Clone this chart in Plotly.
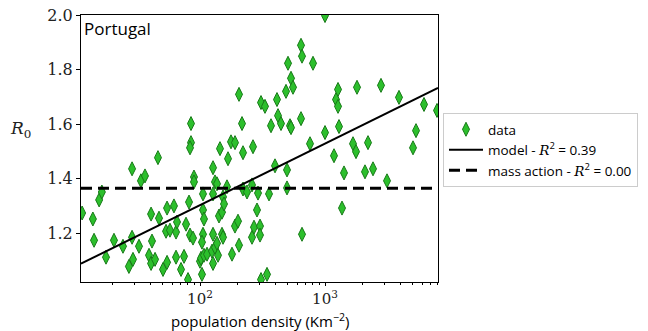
import plotly.graph_objects as go
import numpy as np

# population density (Km^-2) and R0 per region
density = [
    11.4, 13.9, 14.2, 15.6, 16.4, 17.7, 20.5, 24.2, 27.0, 28.6,
    28.6, 29.1, 32.5, 33.7, 36.3, 39.1, 40.6, 40.6, 41.3, 43.7,
    46.1, 47.0, 50.6, 53.5, 54.5, 54.5, 57.5, 61.9, 64.3, 64.3,
    65.5, 70.5, 74.5, 77.3, 80.2, 81.7, 83.2, 87.9, 84.7, 84.7,
    83.2, 89.5, 89.5, 100.0, 101.9, 107.6, 113.8, 103.7, 105.7, 105.7,
    107.6, 105.7, 103.7, 124.7, 127.1, 127.1, 127.1, 127.1, 131.8, 136.8,
    131.8, 136.8, 139.3, 141.9, 144.5, 150.0, 150.0, 152.8, 152.8, 155.6,
    164.4, 167.5, 177.0, 190.5, 180.3, 190.5, 201.4, 205.1, 205.1, 216.8,
    220.8, 220.8, 237.7, 260.6, 265.5, 260.6, 270.4, 285.8, 291.1, 302.0,
    302.0, 307.6, 343.6, 307.6, 331.1, 356.5, 369.8, 398.1, 413.0, 420.7,
    444.6, 487.5, 496.6, 496.6, 505.8, 524.8, 534.6, 534.6, 554.6, 642.7,
    654.6, 642.7, 654.6, 758.6, 801.7, 1000.0, 1000.0, 1180.0, 1225.0, 1271.0,
    1271.0, 1294.0, 1368.0, 1419.0, 1675.0, 1770.0, 1803.0, 2089.0, 2208.0, 2421.0,
    2805.0, 3133.0, 3908.0, 5058.0, 5346.0, 6194.0, 7870.0,
]
r0 = [
    1.274, 1.252, 1.174, 1.322, 1.351, 1.112, 1.174, 1.152, 1.078, 1.436,
    1.185, 1.104, 1.152, 1.392, 1.410, 1.119, 1.270, 1.089, 1.171, 1.104,
    1.477, 1.255, 1.067, 1.207, 1.292, 1.093, 1.211, 1.300, 1.204, 1.112,
    1.241, 1.067, 1.115, 1.233, 1.030, 1.314, 1.193, 1.182, 1.602, 1.532,
    1.513, 1.406, 1.388, 1.097, 1.108, 1.119, 1.123, 1.049, 1.344, 1.285,
    1.252, 1.196, 1.167, 1.134, 1.440, 1.344, 1.196, 1.089, 1.388, 1.381,
    1.148, 1.163, 1.119, 1.263, 1.510, 1.277, 1.196, 1.185, 1.333, 1.307,
    1.370, 1.473, 1.535, 1.532, 1.123, 1.226, 1.244, 1.709, 1.156, 1.602,
    1.495, 1.362, 1.351, 1.377, 1.517, 1.185, 1.222, 1.285, 1.347, 1.226,
    1.193, 1.030, 1.049, 1.679, 1.665, 1.344, 1.594, 1.447, 1.690, 1.631,
    1.602, 1.720, 1.432, 1.366, 1.823, 1.594, 1.587, 1.768, 1.735, 1.889,
    1.849, 1.620, 1.196, 1.528, 1.823, 1.998, 1.569, 1.484, 1.690, 1.727,
    1.665, 1.591, 1.292, 1.421, 1.528, 1.499, 1.735, 1.425, 1.532, 1.436,
    1.742, 1.392, 1.698, 1.513, 1.576, 1.672, 1.650,
]

# fitted models
model_intercept = 0.852   # R0 = a + b*log10(density)
model_slope = 0.2255
model_r2 = "0.39"
mass_action_value = 1.365
mass_action_r2 = "0.00"

x_range_log = [1.048, 3.904]
y_range = [1.021, 2.0]
y_ticks = [1.2, 1.4, 1.6, 1.8, 2.0]
x_major = [100, 1000]
x_major_text = ["10<sup>2</sup>", "10<sup>3</sup>"]
x_minor = [m * 10 ** e for e in (1, 2, 3) for m in range(2, 10)]

line_x = np.array([10 ** x_range_log[0], 10 ** x_range_log[1]])
model_y = model_intercept + model_slope * np.log10(line_x)
mass_y = np.full_like(line_x, mass_action_value)

serif = "DejaVu Serif"
sans = "Open Sans"
rmath = "<span style='font-family:DejaVu Serif'><i>R</i></span>"

fig = go.Figure()
fig.add_trace(go.Scatter(
    x=density, y=r0, mode="markers", name="data",
    marker=dict(symbol="diamond-tall", size=10, color="#2cbf2c",
                line=dict(color="#187a18", width=1)),
))
fig.add_trace(go.Scatter(
    x=line_x, y=model_y, mode="lines",
    name=f"model - {rmath}<sup>2</sup> = {model_r2}",
    line=dict(color="black", width=2),
))
fig.add_trace(go.Scatter(
    x=line_x, y=mass_y, mode="lines",
    name=f"mass action - {rmath}<sup>2</sup> = {mass_action_r2}",
    line=dict(color="black", width=3, dash="11px,6px"),
))

fig.update_layout(
    width=648, height=331,
    margin=dict(l=81, r=210, t=15, b=49, autoexpand=False),
    paper_bgcolor="white", plot_bgcolor="white",
    showlegend=True,
    legend=dict(
        x=1.014, y=0.633, xanchor="left", yanchor="top",
        bordercolor="#cccccc", borderwidth=1,
        font=dict(family=sans, size=13.5, color="black"),
        tracegroupgap=0, itemwidth=34,
    ),
    xaxis=dict(
        type="log", range=x_range_log,
        tickvals=x_major, ticktext=x_major_text,
        ticks="outside", ticklen=3, tickcolor="black",
        tickfont=dict(family=serif, size=15, color="#222"),
        showgrid=False, zeroline=False,
        showline=True, linecolor="black", linewidth=1, mirror=True,
        minor=dict(tickvals=x_minor, ticks="outside", ticklen=2,
                   tickcolor="black", showgrid=False),
    ),
    yaxis=dict(
        range=y_range, tickvals=y_ticks, tickformat=".1f",
        ticks="outside", ticklen=4, tickcolor="black",
        tickfont=dict(family=serif, size=16, color="#222"),
        showgrid=False, zeroline=False,
        showline=True, linecolor="black", linewidth=1, mirror=True,
    ),
    annotations=[
        dict(text="Portugal", xref="paper", yref="paper", x=0.003, y=1.0,
             xanchor="left", yanchor="top", showarrow=False,
             font=dict(family=sans, size=17, color="black")),
        dict(text="<i>R</i><sub>0</sub>", xref="paper", yref="paper",
             x=-0.17, y=0.57, xanchor="center", yanchor="middle",
             showarrow=False,
             font=dict(family=serif, size=17, color="#222")),
        dict(text="population density (Km<sup>−2</sup>)",
             xref="paper", yref="paper", x=0.5, y=-0.143,
             xanchor="center", yanchor="middle", showarrow=False,
             font=dict(family=sans, size=15, color="black")),
    ],
)

fig.write_html("out.html")
